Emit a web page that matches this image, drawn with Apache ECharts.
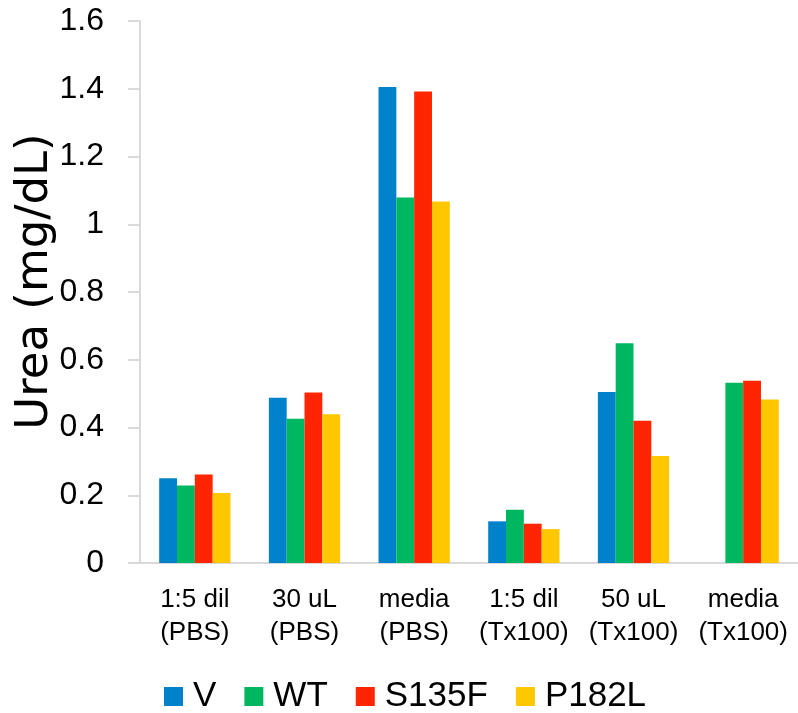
<!DOCTYPE html>
<html>
<head>
<meta charset="utf-8">
<script src="https://cdn.jsdelivr.net/npm/echarts@6/dist/echarts.min.js"></script>
<style>
html,body{margin:0;padding:0;background:#fff;}
#chart{width:798px;height:713px;}
</style>
</head>
<body>
<div id="chart"></div>
<script>
var categories = ['1:5 dil\n(PBS)', '30 uL\n(PBS)', 'media\n(PBS)', '1:5 dil\n(Tx100)', '50 uL\n(Tx100)', 'media\n(Tx100)'];
var seriesNames = ['V', 'WT', 'S135F', 'P182L'];
var valuesV = [0.250, 0.488, 1.405, 0.123, 0.505, null];
var valuesWT = [0.229, 0.426, 1.079, 0.157, 0.649, 0.532];
var valuesS135F = [0.261, 0.503, 1.392, 0.116, 0.420, 0.538];
var valuesP182L = [0.207, 0.439, 1.067, 0.100, 0.316, 0.483];
var colors = ['#0082CA', '#00B761', '#FF2500', '#FFC700'];

var allValues = [valuesV, valuesWT, valuesS135F, valuesP182L];
var chart = echarts.init(document.getElementById('chart'), null, {renderer: 'canvas'});
var font = '"Liberation Sans", Arial, sans-serif';
chart.setOption({
  animation: false,
  color: colors,
  grid: {left: 140, right: 0, top: 21, bottom: 150, containLabel: false, outerBoundsMode: 'none'},
  legend: {
    data: seriesNames,
    left: 159,
    top: 674,
    itemWidth: 19,
    itemHeight: 19,
    itemGap: 28,
    icon: 'rect',
    textStyle: {fontFamily: font, fontSize: 35, color: '#000', padding: [0, 0, 0, 5]}
  },
  xAxis: {
    type: 'category',
    data: categories,
    axisLine: {lineStyle: {color: '#d9d9d9', width: 2}},
    axisTick: {show: false},
    axisLabel: {fontFamily: font, fontSize: 26, color: '#000', lineHeight: 33, margin: 20, interval: 0}
  },
  yAxis: {
    type: 'value',
    min: 0,
    max: 1.6,
    interval: 0.2,
    name: 'Urea (mg/dL)',
    nameLocation: 'middle',
    nameGap: 82,
    nameMoveOverlap: false,
    nameTextStyle: {fontFamily: '"DejaVu Sans", sans-serif', fontSize: 45, color: '#000', padding: [0, 0, 0, 21]},
    axisLine: {show: true, lineStyle: {color: '#d9d9d9', width: 2}},
    axisTick: {show: true, inside: false, length: 12, lineStyle: {color: '#d9d9d9', width: 2}},
    splitLine: {show: false},
    axisLabel: {fontFamily: font, fontSize: 32, color: '#000', margin: 36,
      formatter: function (v) { return String(Math.round(v * 10) / 10); }}
  },
  series: seriesNames.map(function (n, i) {
    return {
      name: n,
      type: 'bar',
      data: allValues[i],
      barGap: '0%',
      barCategoryGap: '35%',
      itemStyle: {color: colors[i]}
    };
  })
});
</script>
</body>
</html>
